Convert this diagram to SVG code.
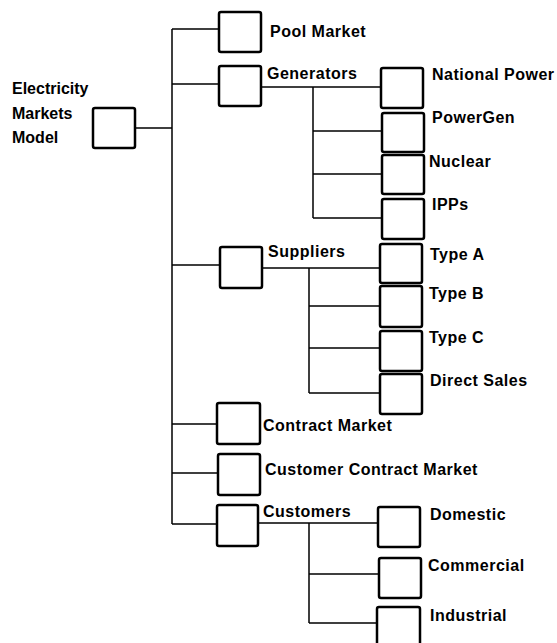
<svg xmlns="http://www.w3.org/2000/svg" width="557" height="643" viewBox="0 0 557 643">
<style>
.box{fill:#fff;stroke:#000;stroke-width:2.5}
.ln{fill:none;stroke:#000;stroke-width:1.5}
text{font-family:"Liberation Sans",Arial,Helvetica,sans-serif;font-weight:bold;font-size:16px;letter-spacing:0.5px;fill:#000}
.root text{letter-spacing:0}
</style>
<rect width="557" height="643" fill="#fff"/>
<g id="connectors">
<path class="ln" d="M135,128H172M172,29V524M172,29H219M172,84H219M172,265H220M172,424H217M172,473H218M172,524H217"/>
<path class="ln" d="M261,87H381M313,87V218M313,131H382M313,174H382M313,218H382"/>
<path class="ln" d="M262,268H380M309,268V393M309,306H380M309,348H380M309,393H380"/>
<path class="ln" d="M258,523H378M309,523V623M309,574H379M309,623H377"/>
</g>
<g id="root" class="root"><rect class="box" x="93" y="108" width="42" height="40" rx="2"/><text x="12" y="94">Electricity</text><text x="12" y="119">Markets</text><text x="12" y="143">Model</text></g>
<g id="pool"><rect class="box" x="219" y="12" width="42" height="40" rx="2"/><text x="270" y="37">Pool Market</text></g>
<g id="generators"><rect class="box" x="219" y="66" width="42" height="40" rx="2"/><text x="267" y="79">Generators</text></g>
<g id="national-power"><rect class="box" x="381" y="68" width="42" height="40" rx="2"/><text x="432" y="80">National Power</text></g>
<g id="powergen"><rect class="box" x="382" y="113" width="42" height="39" rx="2"/><text x="432" y="123">PowerGen</text></g>
<g id="nuclear"><rect class="box" x="382" y="155" width="42" height="39" rx="2"/><text x="429" y="167">Nuclear</text></g>
<g id="ipps"><rect class="box" x="382" y="199" width="42" height="40" rx="2"/><text x="432" y="210">IPPs</text></g>
<g id="suppliers"><rect class="box" x="220" y="247" width="42" height="41" rx="2"/><text x="268" y="257">Suppliers</text></g>
<g id="type-a"><rect class="box" x="380" y="244" width="42" height="39" rx="2"/><text x="430" y="260">Type A</text></g>
<g id="type-b"><rect class="box" x="380" y="286" width="42" height="41" rx="2"/><text x="429" y="299">Type B</text></g>
<g id="type-c"><rect class="box" x="380" y="331" width="42" height="40" rx="2"/><text x="429" y="343">Type C</text></g>
<g id="direct-sales"><rect class="box" x="380" y="374" width="42" height="40" rx="2"/><text x="430" y="386">Direct Sales</text></g>
<g id="contract-market"><rect class="box" x="217" y="403" width="43" height="41" rx="2"/><text x="263" y="431">Contract Market</text></g>
<g id="customer-contract-market"><rect class="box" x="218" y="454" width="42" height="41" rx="2"/><text x="265" y="475">Customer Contract Market</text></g>
<g id="customers"><rect class="box" x="217" y="505" width="41" height="41" rx="2"/><text x="263" y="517">Customers</text></g>
<g id="domestic"><rect class="box" x="378" y="507" width="42" height="40" rx="2"/><text x="430" y="520">Domestic</text></g>
<g id="commercial"><rect class="box" x="379" y="558" width="42" height="40" rx="2"/><text x="428" y="571">Commercial</text></g>
<g id="industrial"><rect class="box" x="377" y="607" width="43" height="44" rx="2"/><text x="430" y="621">Industrial</text></g>
</svg>
